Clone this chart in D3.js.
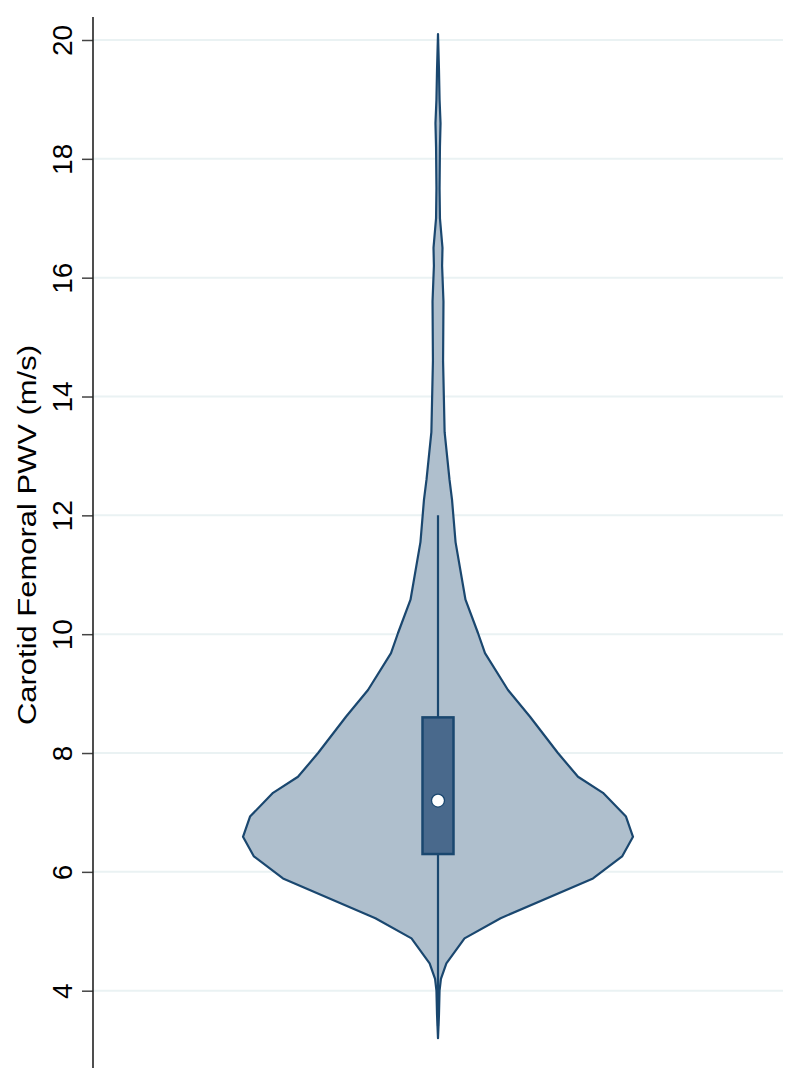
<!DOCTYPE html>
<html>
<head>
<meta charset="utf-8">
<script src="https://cdn.jsdelivr.net/npm/d3@7"></script>
<style>
  html, body { margin: 0; padding: 0; background: #fff; }
  svg { display: block; }
</style>
</head>
<body>
<svg id="chart" width="800" height="1086"></svg>
<script>
// ---- data ----
const category = ["Carotid Femoral PWV"];
const yTicks = [4, 6, 8, 10, 12, 14, 16, 18, 20];
// kernel density outline (relative density) at PWV values (m/s)
const densityAt = [3.2, 3.6, 4.0, 4.2, 4.46, 4.88, 5.22, 5.89, 6.26, 6.59, 6.93, 7.33, 7.6, 8.0, 8.61, 9.06, 9.68, 10.02, 10.58, 11.55, 12.26, 12.6, 13.4, 14.6, 15.6, 16.2, 16.5, 17.0, 17.5, 18.2, 18.6, 19.0, 19.5, 20.1];
const density = [0.000, 0.005, 0.008, 0.015, 0.043, 0.136, 0.321, 0.795, 0.944, 1.000, 0.964, 0.846, 0.718, 0.615, 0.472, 0.359, 0.241, 0.205, 0.141, 0.090, 0.072, 0.059, 0.034, 0.026, 0.028, 0.021, 0.023, 0.010, 0.008, 0.010, 0.013, 0.008, 0.005, 0.000];
// box plot summary
const q1 = [6.3];
const median = [7.2];
const q3 = [8.6];
const whiskerLow = [3.4];
const whiskerHigh = [12.0];

// ---- layout ----
const svg = d3.select("#chart");
const axisX = 93, plotRight = 783;
const navy = "#1a476f";

const y = d3.scaleLinear().domain([4, 20]).range([990.7, 40]);
const x = d3.scalePoint().domain(category).range([axisX, plotRight]).padding(0.5);
const w = d3.scaleLinear().domain([0, 1]).range([0, 195]);

// gridlines
svg.append("g").selectAll("line").data(yTicks).join("line")
  .attr("x1", axisX).attr("x2", plotRight)
  .attr("y1", d => y(d)).attr("y2", d => y(d))
  .attr("stroke", "#eaf2f3").attr("stroke-width", 2);

// violin
const cx = x(category[0]);
const pts = densityAt.map((v, i) => ({ v, d: density[i] }));
const area = d3.area()
  .y(p => y(p.v))
  .x0(p => cx - w(p.d))
  .x1(p => cx + w(p.d))
  .curve(d3.curveLinear);
svg.append("path").datum(pts)
  .attr("d", area)
  .attr("fill", "#afbfcd")
  .attr("stroke", navy).attr("stroke-width", 2.2)
  .attr("stroke-linejoin", "round");

// whisker
svg.append("line")
  .attr("x1", cx).attr("x2", cx)
  .attr("y1", y(whiskerLow[0])).attr("y2", y(whiskerHigh[0]))
  .attr("stroke", navy).attr("stroke-width", 2.2);

// box
const boxW = 31;
svg.append("rect")
  .attr("x", cx - boxW / 2).attr("width", boxW)
  .attr("y", y(q3[0])).attr("height", y(q1[0]) - y(q3[0]))
  .attr("fill", "#49698c").attr("stroke", navy).attr("stroke-width", 2.5);

// median marker
svg.append("circle")
  .attr("cx", cx).attr("cy", y(median[0])).attr("r", 6.5)
  .attr("fill", "#fff").attr("stroke", navy).attr("stroke-width", 1.3);

// y axis
const axis = d3.axisLeft(y).tickValues(yTicks).tickSize(11).tickPadding(4).tickFormat(d3.format("d"));
const gAxis = svg.append("g").attr("transform", `translate(${axisX},0)`).call(axis);
gAxis.select(".domain").remove();
gAxis.selectAll(".tick line").attr("stroke", "#444").attr("stroke-width", 1.5);
gAxis.selectAll(".tick text")
  .attr("x", null).attr("dy", null)
  .attr("transform", "translate(-21,0) rotate(-90)")
  .attr("text-anchor", "middle")
  .attr("font-family", "Liberation Sans, Arial, sans-serif")
  .attr("font-size", 28)
  .attr("fill", "#000");
svg.append("line")
  .attr("x1", axisX).attr("x2", axisX).attr("y1", 17).attr("y2", 1068)
  .attr("stroke", "#222").attr("stroke-width", 1.6);

// axis title
svg.append("text")
  .attr("transform", "translate(36,535) rotate(-90)")
  .attr("text-anchor", "middle")
  .attr("font-family", "Liberation Sans, Arial, sans-serif")
  .attr("font-size", 26)
  .attr("textLength", 380)
  .attr("lengthAdjust", "spacingAndGlyphs")
  .attr("fill", "#000")
  .text("Carotid Femoral PWV (m/s)");
</script>
</body>
</html>
